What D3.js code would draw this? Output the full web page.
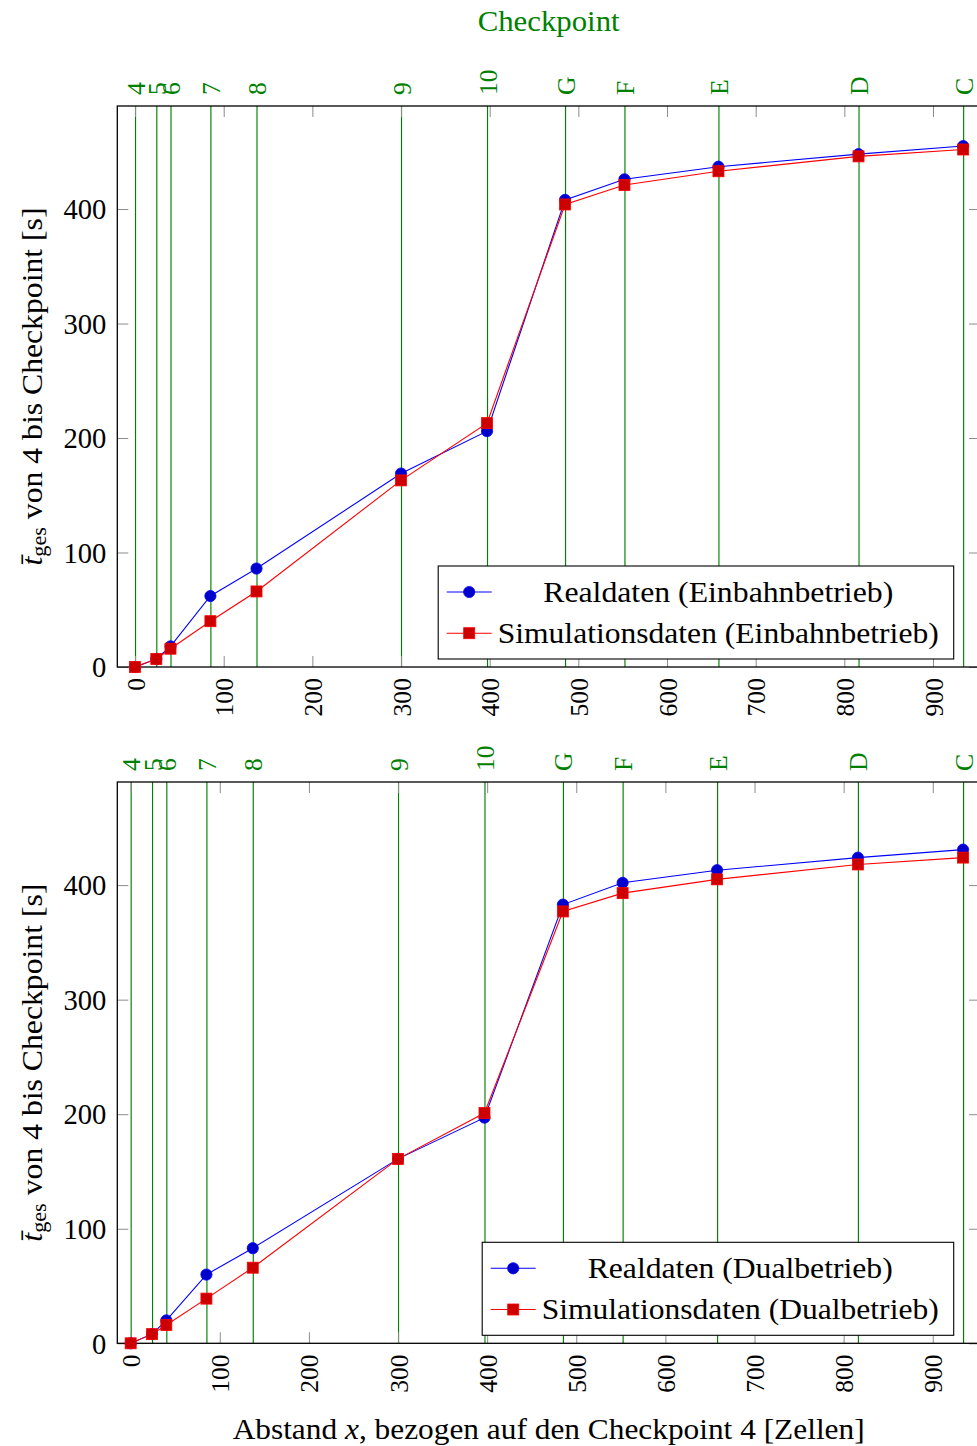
<!DOCTYPE html>
<html>
<head>
<meta charset="utf-8">
<script src="https://cdn.jsdelivr.net/npm/d3@7"></script>
<style>
  body { margin: 0; background: #fff; }
  text { font-family: "Liberation Serif", "Times New Roman", serif; fill: #000; }
</style>
</head>
<body>
<svg id="chart" width="977" height="1446"></svg>
<script>
// Checkpoints along the route and their distance from checkpoint 4 (cells)
const checkpointLabels = ["4", "5", "6", "7", "8", "9", "10", "G", "F", "E", "D", "C"];
const checkpointPos    = [0, 24, 40, 85, 137, 300, 397, 485, 552, 658, 816, 934];

// Axis ticks
const xTicks = [0, 100, 200, 300, 400, 500, 600, 700, 800, 900];
const yTicks = [0, 100, 200, 300, 400];

// Axis ranges
const xDomainEinbahn = [-20, 953];
const xDomainDual    = [-15, 953];
const yDomain        = [0, 490];

// Mean travel time from checkpoint 4 to each checkpoint [s]
const realEinbahn = [0, 7, 18, 62, 86, 169, 206, 408, 426, 437, 448, 455];
const simEinbahn  = [0, 7, 16, 40, 66, 163, 213, 404, 421, 433, 446, 452];
const realDual    = [0, 8, 20, 60, 83, 161, 197, 383, 402, 413, 424, 431];
const simDual     = [0, 8, 16, 39, 66, 161, 201, 377, 393, 405, 418, 424];

// Legend entries
const legendEinbahn = ["Realdaten (Einbahnbetrieb)", "Simulationsdaten (Einbahnbetrieb)"];
const legendDual    = ["Realdaten (Dualbetrieb)", "Simulationsdaten (Dualbetrieb)"];

const svg = d3.select("#chart");
const FONT = 28.6, SMALL = 25.7;
const plotLeft = 117.3, plotRight = 980;
const green = "#008000";

// stretch a text element to a given advance width
function fit(sel, w) {
  sel.attr("textLength", w).attr("lengthAdjust", "spacingAndGlyphs");
}

const panels = [
  { top: 106, bottom: 667, xDomain: xDomainEinbahn, real: realEinbahn, sim: simEinbahn,
    names: legendEinbahn, nameWidths: [350, 441] },
  { top: 782, bottom: 1343.3, xDomain: xDomainDual, real: realDual, sim: simDual,
    names: legendDual, nameWidths: [305, 397] }
];

panels.forEach(p => {
  const g = svg.append("g");
  const x = d3.scaleLinear().domain(p.xDomain).range([plotLeft, plotRight]);
  const y = d3.scaleLinear().domain(yDomain).range([p.bottom, p.top]);
  const h = p.bottom - p.top;

  // checkpoint lines with labels above the frame
  const cp = g.append("g")
    .attr("transform", `translate(0,${p.top})`)
    .call(d3.axisTop(x).tickValues(checkpointPos).tickSize(-h)
      .tickFormat((d, i) => checkpointLabels[i]));
  cp.select(".domain").remove();
  cp.selectAll(".tick line").attr("stroke", green).attr("stroke-width", 1.15);
  cp.selectAll(".tick text")
    .attr("transform", "rotate(-90)")
    .attr("x", 11).attr("y", 0).attr("dy", "0.35em")
    .attr("text-anchor", "start")
    .style("fill", green)
    .style("font-family", "Liberation Serif, serif")
    .style("font-size", SMALL + "px");

  // x axis (bottom, labelled) and mirrored ticks on top
  const xb = g.append("g")
    .attr("transform", `translate(0,${p.bottom})`)
    .call(d3.axisBottom(x).tickValues(xTicks).tickSize(-11));
  xb.select(".domain").remove();
  xb.selectAll(".tick line").attr("stroke", "#8c8c8c").attr("stroke-width", 1);
  xb.selectAll(".tick text")
    .attr("transform", "rotate(-90)")
    .attr("x", -11).attr("y", 0).attr("dy", "0.35em")
    .attr("text-anchor", "end")
    .style("font-family", "Liberation Serif, serif")
    .style("font-size", SMALL + "px");

  const xt = g.append("g")
    .attr("transform", `translate(0,${p.top})`)
    .call(d3.axisTop(x).tickValues(xTicks).tickSize(-11).tickFormat(""));
  xt.select(".domain").remove();
  xt.selectAll(".tick line").attr("stroke", "#8c8c8c").attr("stroke-width", 1);

  // y axis (left, labelled) and mirrored ticks on the right
  const yl = g.append("g")
    .attr("transform", `translate(${plotLeft},0)`)
    .call(d3.axisLeft(y).tickValues(yTicks).tickSize(-11).tickPadding(11));
  yl.select(".domain").remove();
  yl.selectAll(".tick line").attr("stroke", "#8c8c8c").attr("stroke-width", 1);
  yl.selectAll(".tick text")
    .attr("dy", "0.34em")
    .style("font-family", "Liberation Serif, serif")
    .style("font-size", FONT + "px");

  const yr = g.append("g")
    .attr("transform", `translate(${plotRight},0)`)
    .call(d3.axisRight(y).tickValues(yTicks).tickSize(-11).tickFormat(""));
  yr.select(".domain").remove();
  yr.selectAll(".tick line").attr("stroke", "#8c8c8c").attr("stroke-width", 1);

  // frame
  g.append("rect")
    .attr("x", plotLeft).attr("y", p.top)
    .attr("width", plotRight - plotLeft).attr("height", h)
    .attr("fill", "none").attr("stroke", "#000").attr("stroke-width", 1.3);

  const line = d3.line().x((d, i) => x(checkpointPos[i])).y(d => y(d));

  // measured series: blue line with dots
  g.append("path").datum(p.real)
    .attr("d", line).attr("fill", "none").attr("stroke", "#0000ff").attr("stroke-width", 1.1);
  g.selectAll("circle.real").data(p.real).join("circle")
    .attr("class", "real")
    .attr("cx", (d, i) => x(checkpointPos[i])).attr("cy", d => y(d)).attr("r", 5.6)
    .attr("fill", "#0000cc").attr("stroke", "#0000ff").attr("stroke-width", 0.8);

  // simulated series: red line with squares
  const s = 11;
  g.append("path").datum(p.sim)
    .attr("d", line).attr("fill", "none").attr("stroke", "#ff0000").attr("stroke-width", 1.1);
  g.selectAll("rect.sim").data(p.sim).join("rect")
    .attr("class", "sim")
    .attr("x", (d, i) => x(checkpointPos[i]) - s / 2).attr("y", d => y(d) - s / 2)
    .attr("width", s).attr("height", s)
    .attr("fill", "#cc0000").attr("stroke", "#ff0000").attr("stroke-width", 0.8);

  // legend
  const textW = d3.max(p.nameWidths);
  const lw = 8.5 + 45 + 6 + textW + 15, lh = 93;
  const lx = plotRight - 26.3 - lw, ly = p.bottom - 8 - lh;
  const lg = g.append("g").attr("transform", `translate(${lx},${ly})`);
  lg.append("rect").attr("width", lw).attr("height", lh)
    .attr("fill", "#fff").attr("stroke", "#000").attr("stroke-width", 1.1);
  const rows = [
    { color: "#0000ff", fill: "#0000cc", mark: "circle" },
    { color: "#ff0000", fill: "#cc0000", mark: "square" }
  ];
  rows.forEach((r, i) => {
    const ry = 26 + i * 41.2;
    lg.append("line").attr("x1", 8.5).attr("x2", 53.5).attr("y1", ry).attr("y2", ry)
      .attr("stroke", r.color).attr("stroke-width", 1.1);
    if (r.mark === "circle") {
      lg.append("circle").attr("cx", 31).attr("cy", ry).attr("r", 5.6)
        .attr("fill", r.fill).attr("stroke", r.color).attr("stroke-width", 0.8);
    } else {
      lg.append("rect").attr("x", 31 - s / 2).attr("y", ry - s / 2).attr("width", s).attr("height", s)
        .attr("fill", r.fill).attr("stroke", r.color).attr("stroke-width", 0.8);
    }
    lg.append("text")
      .attr("x", 59.5 + textW / 2).attr("y", ry + 10)
      .attr("text-anchor", "middle")
      .style("font-size", FONT + "px")
      .text(p.names[i])
      .call(fit, p.nameWidths[i]);
  });

  // y axis title
  const yt = g.append("text")
    .attr("transform", `translate(41.5,${(p.top + p.bottom) / 2}) rotate(-90)`)
    .attr("text-anchor", "middle")
    .style("font-size", FONT + "px");
  yt.append("tspan").style("font-style", "italic").text("t\u0304");
  yt.append("tspan").attr("baseline-shift", "-22%").style("font-size", (FONT * 0.7) + "px").text("ges");
  yt.append("tspan").text("\u00a0von 4 bis Checkpoint [s]");
  yt.call(fit, 358);
});

// top title for the checkpoint axis
svg.append("text")
  .attr("x", (plotLeft + plotRight) / 2).attr("y", 31)
  .attr("text-anchor", "middle")
  .style("font-size", FONT + "px").style("fill", green)
  .text("Checkpoint")
  .call(fit, 142);

// x axis title
const xl = svg.append("text")
  .attr("x", (plotLeft + plotRight) / 2).attr("y", 1439)
  .attr("text-anchor", "middle")
  .style("font-size", FONT + "px");
xl.append("tspan").text("Abstand ");
xl.append("tspan").style("font-style", "italic").text("x");
xl.append("tspan").text(", bezogen auf den Checkpoint 4 [Zellen]");
xl.call(fit, 632);
</script>
</body>
</html>
